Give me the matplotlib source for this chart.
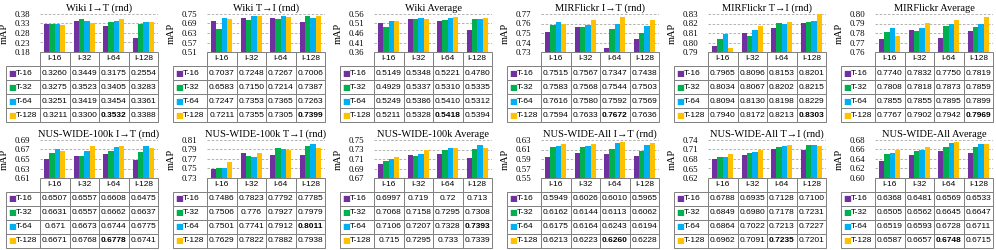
import matplotlib
matplotlib.use('Agg')
import matplotlib.pyplot as plt
import numpy as np

# column / row labels
i_labels = ['I-16', 'I-32', 'I-64', 'I-128']
t_labels = ['T-16', 'T-32', 'T-64', 'T-128']
colors = ['#7030A0', '#00B050', '#00B0F0', '#FFC000']

# table values as printed (rows T-16..T-128, cols I-16..I-128)
wiki_i2t = [['0.3260', '0.3449', '0.3175', '0.2554'],
            ['0.3275', '0.3523', '0.3405', '0.3283'],
            ['0.3251', '0.3419', '0.3454', '0.3361'],
            ['0.3211', '0.3300', '0.3532', '0.3388']]
wiki_t2i = [['0.7037', '0.7248', '0.7267', '0.7006'],
            ['0.6583', '0.7150', '0.7214', '0.7387'],
            ['0.7247', '0.7353', '0.7365', '0.7263'],
            ['0.7211', '0.7355', '0.7305', '0.7399']]
wiki_avg = [['0.5149', '0.5348', '0.5221', '0.4780'],
            ['0.4929', '0.5337', '0.5310', '0.5335'],
            ['0.5249', '0.5386', '0.5410', '0.5312'],
            ['0.5211', '0.5328', '0.5418', '0.5394']]
mir_i2t = [['0.7515', '0.7567', '0.7347', '0.7438'],
           ['0.7583', '0.7568', '0.7544', '0.7503'],
           ['0.7616', '0.7580', '0.7592', '0.7569'],
           ['0.7594', '0.7633', '0.7672', '0.7636']]
mir_t2i = [['0.7965', '0.8096', '0.8153', '0.8201'],
           ['0.8034', '0.8067', '0.8202', '0.8215'],
           ['0.8094', '0.8130', '0.8198', '0.8229'],
           ['0.7940', '0.8172', '0.8213', '0.8303']]
mir_avg = [['0.7740', '0.7832', '0.7750', '0.7819'],
           ['0.7808', '0.7818', '0.7873', '0.7859'],
           ['0.7855', '0.7855', '0.7895', '0.7899'],
           ['0.7767', '0.7902', '0.7942', '0.7969']]
nus100k_i2t = [['0.6507', '0.6557', '0.6608', '0.6475'],
               ['0.6631', '0.6557', '0.6662', '0.6637'],
               ['0.671', '0.6673', '0.6744', '0.6775'],
               ['0.6671', '0.6768', '0.6778', '0.6741']]
nus100k_t2i = [['0.7486', '0.7823', '0.7792', '0.7785'],
               ['0.7506', '0.776', '0.7927', '0.7979'],
               ['0.7501', '0.7741', '0.7912', '0.8011'],
               ['0.7629', '0.7822', '0.7882', '0.7938']]
nus100k_avg = [['0.6997', '0.719', '0.72', '0.713'],
               ['0.7068', '0.7158', '0.7295', '0.7308'],
               ['0.7106', '0.7207', '0.7328', '0.7393'],
               ['0.715', '0.7295', '0.733', '0.7339']]
nusall_i2t = [['0.5949', '0.6026', '0.6010', '0.5965'],
              ['0.6162', '0.6144', '0.6113', '0.6062'],
              ['0.6175', '0.6164', '0.6243', '0.6194'],
              ['0.6213', '0.6223', '0.6260', '0.6228']]
nusall_t2i = [['0.6788', '0.6935', '0.7128', '0.7100'],
              ['0.6849', '0.6980', '0.7178', '0.7231'],
              ['0.6864', '0.7022', '0.7213', '0.7227'],
              ['0.6962', '0.7091', '0.7235', '0.7201']]
nusall_avg = [['0.6368', '0.6481', '0.6569', '0.6533'],
              ['0.6505', '0.6562', '0.6645', '0.6647'],
              ['0.6519', '0.6593', '0.6728', '0.6711'],
              ['0.6587', '0.6657', '0.6748', '0.6715']]

titles = ['Wiki I\u2192T (rnd)', 'Wiki T\u2192I (rnd)', 'Wiki Average',
          'MIRFlickr I\u2192T (rnd)', 'MIRFlickr T\u2192I (rnd)', 'MIRFlickr Average',
          'NUS-WIDE-100k I\u2192T (rnd)', 'NUS-WIDE-100k T\u2192I (rnd)', 'NUS-WIDE-100k Average',
          'NUS-WIDE-All I\u2192T (rnd)', 'NUS-WIDE-All T\u2192I (rnd)', 'NUS-WIDE-All Average']
tables = [wiki_i2t, wiki_t2i, wiki_avg, mir_i2t, mir_t2i, mir_avg,
          nus100k_i2t, nus100k_t2i, nus100k_avg, nusall_i2t, nusall_t2i, nusall_avg]
yticks = [[0.18, 0.23, 0.28, 0.33, 0.38], [0.51, 0.57, 0.63, 0.69, 0.75],
          [0.36, 0.41, 0.46, 0.51, 0.56], [0.73, 0.74, 0.75, 0.76, 0.77],
          [0.79, 0.80, 0.81, 0.82, 0.83], [0.76, 0.77, 0.78, 0.79, 0.80],
          [0.61, 0.63, 0.65, 0.67, 0.69], [0.73, 0.75, 0.77, 0.79, 0.81],
          [0.67, 0.69, 0.71, 0.73, 0.75], [0.55, 0.57, 0.59, 0.61, 0.63],
          [0.62, 0.65, 0.68, 0.71, 0.74], [0.60, 0.62, 0.64, 0.66, 0.68]]

serif = ['Liberation Serif', 'DejaVu Serif']
sans = ['Liberation Sans', 'DejaVu Sans']

W, H = 996, 250
fig = plt.figure(figsize=(W / 100, H / 100), dpi=100)

aw, ah = 118, 38          # plot area in px
lab_w = 34                # row label column width
tab_h = 70                # table height
tops = [14, 140]

for idx, (title, tab, ticks) in enumerate(zip(titles, tables, yticks)):
    r, c = divmod(idx, 6)
    left = 40 + 167 * c
    bottom = tops[r] + ah
    ax = fig.add_axes([left / W, 1 - bottom / H, aw / W, ah / H])

    vals = np.array(tab, dtype=float)
    x = np.arange(4) + 0.5
    bw = 0.18
    for k in range(4):
        ax.bar(x + (k - 1.5) * bw, vals[k] - ticks[0], bw, bottom=ticks[0],
               color=colors[k], zorder=3)

    ax.set_xlim(0, 4)
    ax.set_ylim(ticks[0], ticks[-1])
    ax.set_yticks(ticks)
    ax.set_yticklabels(['%.2f' % t for t in ticks], fontfamily=serif, fontsize=6.3)
    ax.set_xticks([])
    ax.tick_params(axis='y', length=0, pad=7)
    for s in ax.spines.values():
        s.set_visible(False)
    ax.grid(axis='y', color='#a6a6a6', linestyle=(0, (3, 2)), linewidth=0.6, zorder=0)
    ax.set_title(title, fontfamily=serif, fontsize=7.5, pad=2.5)
    ax.set_ylabel('mAP', fontfamily=serif, fontsize=7.5)
    ax.yaxis.set_label_coords(-31 / aw, 0.5)

    # data table under the bars
    best = np.unravel_index(np.argmax(vals), vals.shape)
    cell_text = [[''] + i_labels] + [[''] + row for row in tab]
    col_w = [lab_w] + [aw / 4] * 4
    tbl = ax.table(cellText=cell_text, colWidths=[w / sum(col_w) for w in col_w],
                   cellLoc='center',
                   bbox=[-lab_w / aw, -tab_h / ah, (aw + lab_w) / aw, tab_h / ah])
    tbl.auto_set_font_size(False)
    for (i, j), cell in tbl.get_celld().items():
        cell.set_edgecolor('#7f7f7f')
        cell.set_linewidth(0.7)
        cell.get_text().set_fontfamily(sans)
        cell.get_text().set_fontsize(6)
        if i == 0 and j == 0:
            cell.set_edgecolor('none')
        if i > 0 and j > 0 and (i - 1, j - 1) == best:
            cell.get_text().set_fontweight('bold')

    rh = tab_h / 5
    for i, lab in enumerate(t_labels):
        yc = -(rh * (i + 1) + rh / 2) / ah
        ax.text((-lab_w + 6) / aw, yc, '\u25A0', color=colors[i], fontsize=6,
                ha='center', va='center', transform=ax.transAxes,
                fontfamily='DejaVu Sans')
        ax.text((-lab_w + 10) / aw, yc, lab, fontsize=6, ha='left', va='center',
                transform=ax.transAxes, fontfamily=sans)

fig.savefig('out.png', dpi=100)
